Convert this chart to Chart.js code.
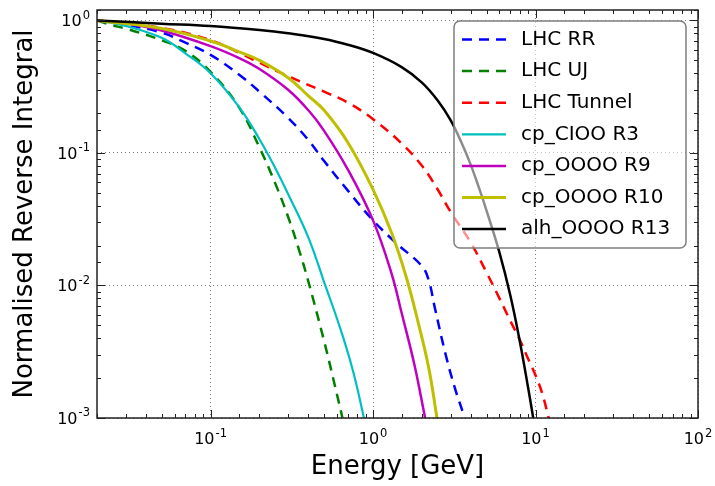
<!DOCTYPE html>
<html>
<head>
<meta charset="utf-8">
<script src="https://cdn.jsdelivr.net/npm/chart.js@4.4.0/dist/chart.umd.min.js"></script>
<style>
    html, body { margin: 0; padding: 0; background: #fff; }
    #contenedor { width: 715px; height: 486px; }
</style>
</head>
<body>
<div id="contenedor"><canvas id="graficoEspectro" width="715" height="486"></canvas></div>
<script>
// energia [GeV] y integral inversa normalizada de cada espectro
const rrEnergia = [0.02, 0.03, 0.05, 0.07, 0.1, 0.15, 0.2, 0.3, 0.4, 0.5, 0.7, 1, 1.4, 2, 2.2, 2.4, 2.8, 3.2, 3.6, 4];
const rrValor = [1.0, 0.93, 0.81, 0.68, 0.55, 0.39, 0.29, 0.184, 0.125, 0.087, 0.052, 0.031, 0.0207, 0.014, 0.011, 0.0068, 0.003, 0.00166, 0.00107, 0.0007];

const ujEnergia = [0.02, 0.025, 0.03, 0.04, 0.05, 0.07, 0.1, 0.15, 0.2, 0.25, 0.3, 0.35, 0.4, 0.5, 0.6, 0.65, 0.7];
const ujValor = [1.0, 0.92, 0.87, 0.78, 0.71, 0.59, 0.41, 0.22, 0.11, 0.059, 0.033, 0.0186, 0.0107, 0.0038, 0.0015, 0.00098, 0.0006];

const tunelEnergia = [0.02, 0.05, 0.1, 0.15, 0.2, 0.3, 0.5, 0.7, 1, 1.5, 2, 2.5, 3, 4, 5, 6, 7, 8, 9, 10, 11, 12, 13];
const tunelValor = [1.0, 0.88, 0.71, 0.57, 0.48, 0.38, 0.29, 0.24, 0.18, 0.118, 0.08, 0.053, 0.036, 0.021, 0.0125, 0.008, 0.0054, 0.0039, 0.0028, 0.0021, 0.00153, 0.00102, 0.00069];

const r3Energia = [0.02, 0.03, 0.05, 0.07, 0.1, 0.15, 0.2, 0.25, 0.3, 0.4, 0.5, 0.63, 0.75, 0.87, 0.95];
const r3Valor = [1.0, 0.91, 0.74, 0.565, 0.40, 0.222, 0.127, 0.077, 0.049, 0.023, 0.0106, 0.0047, 0.0023, 0.00106, 0.00063];

const r9Energia = [0.02, 0.03, 0.05, 0.1, 0.15, 0.2, 0.3, 0.4, 0.5, 0.7, 1, 1.3, 1.5, 1.8, 2.06, 2.2];
const r9Valor = [1.0, 0.95, 0.84, 0.64, 0.52, 0.43, 0.30, 0.21, 0.147, 0.075, 0.031, 0.0123, 0.0062, 0.0025, 0.0011, 0.00072];

const r10Energia = [0.02, 0.05, 0.1, 0.15, 0.2, 0.3, 0.4, 0.5, 0.7, 1, 1.3, 1.6, 1.9, 2.2, 2.45, 2.7];
const r10Valor = [1.0, 0.87, 0.70, 0.58, 0.50, 0.37, 0.27, 0.21, 0.12, 0.053, 0.025, 0.0116, 0.0052, 0.0024, 0.00108, 0.0005];

const r13Energia = [0.02, 0.05, 0.1, 0.2, 0.3, 0.5, 0.7, 1, 1.5, 2, 2.5, 3, 3.5, 4, 4.5, 5, 6, 7, 8, 9, 9.5, 10];
const r13Valor = [1.0, 0.946, 0.908, 0.847, 0.80, 0.726, 0.656, 0.569, 0.445, 0.34, 0.249, 0.177, 0.12, 0.081, 0.054, 0.0366, 0.0177, 0.0084, 0.0038, 0.0017, 0.00115, 0.00078];

// decadas con etiqueta (base 10 y exponente)
const decadasX = [0.1, 1, 10, 100];
const exponentesX = ['-1', '0', '1', '2'];
const decadasY = [0.001, 0.01, 0.1, 1];
const exponentesY = ['-3', '-2', '-1', '0'];

const fuente = '"DejaVu Sans", sans-serif';

function puntos(energia, valor) {
    return energia.map((e, i) => ({ x: e, y: valor[i] }));
}

function esDecada(v) {
    const l = Math.log10(v);
    return Math.abs(l - Math.round(l)) < 1e-6;
}

const series = [
    { label: 'LHC RR', data: puntos(rrEnergia, rrValor), color: '#0000ff', dash: [10, 7], ancho: 2.5 },
    { label: 'LHC UJ', data: puntos(ujEnergia, ujValor), color: '#008000', dash: [10, 7], ancho: 2.5 },
    { label: 'LHC Tunnel', data: puntos(tunelEnergia, tunelValor), color: '#ff0000', dash: [10, 7], ancho: 2.5 },
    { label: 'cp_CIOO R3', data: puntos(r3Energia, r3Valor), color: '#00bfbf', dash: [], ancho: 2.2 },
    { label: 'cp_OOOO R9', data: puntos(r9Energia, r9Valor), color: '#bf00bf', dash: [], ancho: 2.5 },
    { label: 'cp_OOOO R10', data: puntos(r10Energia, r10Valor), color: '#bfbf00', dash: [], ancho: 3 },
    { label: 'alh_OOOO R13', data: puntos(r13Energia, r13Valor), color: '#000000', dash: [], ancho: 2.5 }
];

// marco con marcas hacia dentro en los cuatro lados
const marco = {
    id: 'marco',
    afterDatasetsDraw(chart) {
        const { ctx, chartArea: a, scales } = chart;
        ctx.save();
        ctx.strokeStyle = '#222';
        ctx.lineWidth = 1;
        ctx.beginPath();
        scales.x.ticks.forEach(t => {
            const px = Math.round(scales.x.getPixelForValue(t.value)) + 0.5;
            const largo = esDecada(t.value) ? 8 : 4;
            ctx.moveTo(px, a.bottom); ctx.lineTo(px, a.bottom - largo);
            ctx.moveTo(px, a.top); ctx.lineTo(px, a.top + largo);
        });
        scales.y.ticks.forEach(t => {
            const py = Math.round(scales.y.getPixelForValue(t.value)) + 0.5;
            const largo = esDecada(t.value) ? 8 : 4;
            ctx.moveTo(a.left, py); ctx.lineTo(a.left + largo, py);
            ctx.moveTo(a.right, py); ctx.lineTo(a.right - largo, py);
        });
        ctx.stroke();
        ctx.lineWidth = 1.5;
        ctx.strokeRect(a.left, a.top, a.right - a.left, a.bottom - a.top);
        ctx.restore();
    }
};

// etiquetas de decada con exponente en superindice
function potencia(ctx, exp, x, base, alinear) {
    ctx.font = '16px ' + fuente;
    const anchoBase = ctx.measureText('10').width;
    ctx.font = '11.5px ' + fuente;
    const anchoExp = ctx.measureText(exp).width;
    const total = anchoBase + 1 + anchoExp;
    const x0 = alinear === 'centro' ? x - total / 2 : x - total;
    ctx.font = '16px ' + fuente;
    ctx.fillText('10', x0, base);
    ctx.font = '11.5px ' + fuente;
    ctx.fillText(exp, x0 + anchoBase + 1, base - 7.5);
}

const etiquetasEje = {
    id: 'etiquetasEje',
    afterDraw(chart) {
        const { ctx, scales } = chart;
        ctx.save();
        ctx.fillStyle = '#000';
        ctx.textBaseline = 'alphabetic';
        ctx.textAlign = 'left';
        decadasX.forEach((d, i) => potencia(ctx, exponentesX[i], scales.x.getPixelForValue(d), 444, 'centro'));
        decadasY.forEach((d, i) => potencia(ctx, exponentesY[i], 90, scales.y.getPixelForValue(d) + 5.7, 'derecha'));
        ctx.restore();
    }
};

// leyenda dentro del area, fondo semitransparente
const leyenda = {
    id: 'leyenda',
    afterDatasetsDraw(chart) {
        const ctx = chart.ctx;
        ctx.save();
        ctx.beginPath();
        ctx.roundRect(454, 21, 232, 227, 6);
        ctx.fillStyle = 'rgba(255,255,255,0.55)';
        ctx.fill();
        ctx.strokeStyle = '#7f7f7f';
        ctx.lineWidth = 1.5;
        ctx.stroke();
        ctx.font = '20px ' + fuente;
        ctx.textBaseline = 'middle';
        chart.data.datasets.forEach((ds, i) => {
            const y = 39.5 + i * 31.6;
            ctx.beginPath();
            ctx.setLineDash(ds.borderDash);
            ctx.strokeStyle = ds.borderColor;
            ctx.lineWidth = ds.borderWidth;
            ctx.moveTo(462, y);
            ctx.lineTo(506, y);
            ctx.stroke();
            ctx.setLineDash([]);
            ctx.fillStyle = '#000';
            ctx.fillText(ds.label, 521, y);
        });
        ctx.restore();
    }
};

const ctx = document.getElementById('graficoEspectro').getContext('2d');
new Chart(ctx, {
    type: 'line',
    data: {
        datasets: series.map((s, i) => ({
            label: s.label,
            data: s.data,
            borderColor: s.color,
            backgroundColor: s.color,
            borderDash: s.dash,
            borderWidth: s.ancho,
            pointRadius: 0,
            tension: 0.4,
            fill: false,
            clip: 0,
            order: series.length - i
        }))
    },
    options: {
        responsive: false,
        animation: false,
        devicePixelRatio: 1,
        layout: { padding: { left: 0, right: 17, top: 10, bottom: 0 } },
        plugins: { legend: { display: false }, tooltip: { enabled: false } },
        scales: {
            x: {
                type: 'logarithmic',
                min: 0.02,
                max: 100,
                afterFit: s => { s.height = 68; },
                grid: { color: c => esDecada(c.tick.value) ? '#777' : 'rgba(0,0,0,0)', lineWidth: 1, drawTicks: false },
                border: { display: false, dash: [1, 3] },
                ticks: { display: false, autoSkip: false },
                title: {
                    display: true,
                    text: 'Energy [GeV]',
                    color: '#000',
                    font: { family: fuente, size: 26 },
                    padding: { top: 0, bottom: 3 }
                }
            },
            y: {
                type: 'logarithmic',
                min: 0.001,
                max: 1.2,
                afterFit: s => { s.width = 97; },
                grid: { color: c => esDecada(c.tick.value) ? '#777' : 'rgba(0,0,0,0)', lineWidth: 1, drawTicks: false },
                border: { display: false, dash: [1, 3] },
                ticks: { display: false, autoSkip: false },
                title: {
                    display: true,
                    text: 'Normalised Reverse Integral',
                    color: '#000',
                    font: { family: fuente, size: 26 },
                    padding: { top: 10, bottom: 0 }
                }
            }
        }
    },
    plugins: [marco, leyenda, etiquetasEje]
});
</script>
</body>
</html>
